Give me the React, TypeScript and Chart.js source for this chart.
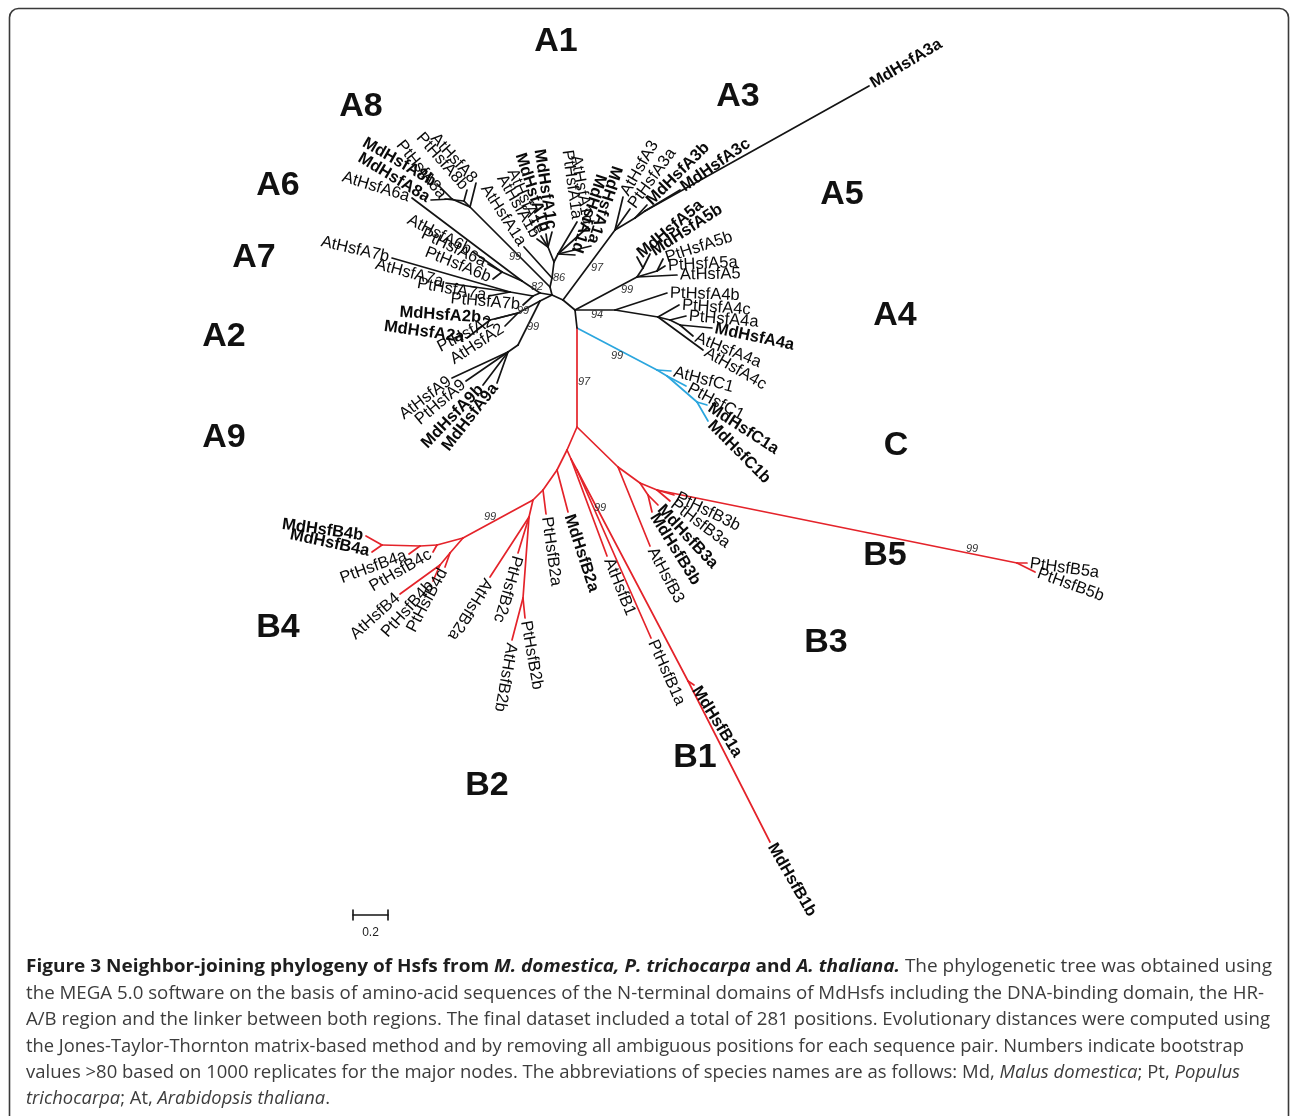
import { useEffect, useRef } from 'react';
import { Chart, registerables } from 'chart.js';

Chart.register(...registerables);

const W = 1290;
const H = 1116;

// ---- internal nodes of the tree (data space = figure units) ----
const nodeIds = ['N2','N1','N0','N3','NB','Cn','Cx','Cy','A3n','A3m','A3m2','A5n','A5m','A5p','A4n','A4b','A4c','A4d','Nx','A1n','A1b','A1c','A1d','A8n','A8m','A8p','N82','A6n','A6x','A7n','A7q','A29','A2n','A2m','A9n','A9a','NBl','B1n1','B1n2','B1n3','B2a','B2b','B2c','B2s','B2bb','B4n','B4L1','B4L2','B4L3','B4D1','B4D2','B35','B3x','B3xx','B3y','B5n'];
const nodeX = [575,563,552,577,577,657,667,697,615,635,645,637,643,657,615,658,670,680,550,552,554,548,558,470,452,464,540,522,502,533,510,540,518,490,518,508,567,571,577,688,557,543,533,529,523,463,437,420,382,450,440,618,640,648,657,1017];
const nodeY = [310,300,295,328,427,370,376,402,230,218,211,277,268,271,310,317,320,325,287,278,262,247,254,207,199,201,293,281,272,296,292,301,313,320,345,352,450,459,470,681,470,490,500,517,598,538,545,546,545,553,565,467,483,495,490,563];
const nodeParent = ['','N2','N1','N2','N3','N3','Cn','Cx','N1','A3n','A3m','N2','A5n','A5n','N2','A4n','A4b','A4c','N0','Nx','A1n','A1b','A1b','Nx','A8n','A8n','N0','N82','A6n','N82','A7n','N0','A29','A2n','A29','A9n','NB','NBl','B1n1','B1n2','NBl','B2a','B2b','B2c','B2s','B2c','B4n','B4L1','B4L2','B4n','B4D1','NB','B35','B3x','B3x','B3y'];

// ---- leaves: name, tip position, parent node, label reading angle (deg) ----
const leafNames = ['AtHsfA1a','AtHsfA1b','AtHsfA1e','MdHsfA1b','MdHsfA1c','PtHsfA1a','AtHsfA1d','MdHsfA1d','MdHsfA1a',
  'MdHsfA8b','MdHsfA8a','PtHsfA8a','PtHsfA8b','AtHsfA8',
  'AtHsfA6a','AtHsfA6b','PtHsfA6a','PtHsfA6b',
  'AtHsfA7b','AtHsfA7a','PtHsfA7a','PtHsfA7b',
  'MdHsfA2b','MdHsfA2a','PtHsfA2','AtHsfA2',
  'AtHsfA9','PtHsfA9','MdHsfA9b','MdHsfA9a',
  'AtHsfA3','PtHsfA3a','MdHsfA3b','MdHsfA3c','MdHsfA3a',
  'MdHsfA5a','MdHsfA5b','PtHsfA5b','PtHsfA5a','AtHsfA5',
  'PtHsfA4b','PtHsfA4c','PtHsfA4a','MdHsfA4a','AtHsfA4a','AtHsfA4c',
  'AtHsfC1','PtHsfC1','MdHsfC1a','MdHsfC1b',
  'MdHsfB4b','MdHsfB4a','PtHsfB4a','PtHsfB4c','AtHsfB4','PtHsfB4b','PtHsfB4d',
  'AtHsfB2a','PtHsfB2c','AtHsfB2b','PtHsfB2b','PtHsfB2a','MdHsfB2a',
  'AtHsfB1','PtHsfB1a','MdHsfB1a','MdHsfB1b',
  'AtHsfB3','MdHsfB3b','MdHsfB3a','PtHsfB3a','PtHsfB3b','PtHsfB5a','PtHsfB5b'];
const leafX = [524,537,541,546,552,577,588,575,591,
  437,431,445,467,476,
  412,473,488,493,
  392,446,489,523,
  484,467,495,505,
  452,466,483,497,
  623,630,647,680,869,
  637,650,663,665,677,
  667,679,686,712,693,703,
  671,686,707,708,
  366,372,409,433,400,433,445,
  490,518,512,525,546,568,
  607,651,694,770,
  650,652,658,670,674,1027,1035];
const leafY = [247,239,236,234,232,222,227,255,246,
  184,200,199,190,183,
  198,252,264,279,
  258,283,296,305,
  318,338,319,326,
  378,381,385,383,
  197,209,205,190,86,
  257,254,259,266,275,
  293,305,316,328,336,350,
  371,386,405,421,
  536,552,554,552,594,581,567,
  577,553,640,618,514,512,
  556,638,685,842,
  546,512,505,501,495,563,572];
const leafParent = ['A1n','A1c','A1c','A1c','A1c','A1d','A1d','A1d','A1d',
  'A8m','A8m','A8p','A8p','A8n',
  'A6n','A6x','A6x','A6x',
  'A7q','A7q','A7q','A7n',
  'A2m','A2m','A2n','A2n',
  'A9a','A9a','A9a','A9a',
  'A3n','A3n','A3m','A3m2','A3m2',
  'A5m','A5m','A5p','A5p','A5n',
  'A4n','A4b','A4c','A4d','A4d','A4b',
  'Cn','Cx','Cy','Cy',
  'B4L3','B4L3','B4L2','B4L1','B4D2','B4D2','B4D1',
  'B2s','B2s','B2bb','B2bb','B2b','B2a',
  'B1n1','B1n2','B1n3','B1n3',
  'B35','B3xx','B3xx','B3y','B3y','B5n','B5n'];
const leafRot = [57,60,66,72,81,82,80,108,108,
  30,31,51,49,48,
  17,27,25,22,
  13,15,10,5,
  4,8,-27,-33,
  -37,-40,-46,-52,
  -60,-54,-45,-35,-31,
  -40,-33,-18,-3,-1,
  2,4,5,12,22,30,
  15,28,33,45,
  8,12,-20,-30,-42,-48,-62,
  122,106,100,80,82,72,
  68,66,58,60,
  62,58,47,37,26,8,20];

// ---- bootstrap values ----
const bootValues = ['99','86','82','99','99','97','99','94','99','97','99','99','99'];
const bootX = [515,559,537,523,533,597,627,597,617,584,490,600,972];
const bootY = [257,278,287,311,327,268,290,315,356,382,517,508,549];

// ---- clade (group) labels ----
const cladeNames = ['A1','A3','A8','A6','A5','A7','A4','A2','A9','C','B5','B4','B3','B1','B2'];
const cladeX = [556,738,361,278,842,254,895,224,224,896,885,278,826,695,487];
const cladeY = [42,97,107,186,195,258,316,337,438,446,556,628,643,758,786];

// ---- scale bar ----
const scaleBarValue = 0.2;
const unitsPerDistance = 175;
const scaleBarX = 353;
const scaleBarY = 915;

// ---- caption ----
const captionLines: [string, string][][] = [
  [['Figure 3 Neighbor-joining phylogeny of Hsfs from ', 'b'], ['M. domestica, P. trichocarpa', 'bi'], [' and ', 'b'], ['A. thaliana.', 'bi'], [' The phylogenetic tree was obtained using', 'r']],
  [['the MEGA 5.0 software on the basis of amino-acid sequences of the N-terminal domains of MdHsfs including the DNA-binding domain, the HR-', 'r']],
  [['A/B region and the linker between both regions. The final dataset included a total of 281 positions. Evolutionary distances were computed using', 'r']],
  [['the Jones-Taylor-Thornton matrix-based method and by removing all ambiguous positions for each sequence pair. Numbers indicate bootstrap', 'r']],
  [['values >80 based on 1000 replicates for the major nodes. The abbreviations of species names are as follows: Md, ', 'r'], ['Malus domestica', 'i'], ['; Pt, ', 'r'], ['Populus', 'i']],
  [['trichocarpa', 'i'], ['; At, ', 'r'], ['Arabidopsis thaliana', 'i'], ['.', 'r']],
];
const captionLeft = 26;
const captionEnds = [1272, 1264, 1270, 1244, 1240, 330];
const captionY = [967, 994, 1020, 1047, 1073, 1099];

const BLACK = '#141414';
const BLUE = '#2ba6de';
const RED = '#e4232a';

type P = { x: number; y: number; parent: string };
const nodes: Record<string, P> = {};
nodeIds.forEach((id, i) => { nodes[id] = { x: nodeX[i], y: nodeY[i], parent: nodeParent[i] }; });

function colorOf(id: string): string {
  let cur = id;
  while (cur) {
    if (cur === 'Cn') return BLUE;
    if (cur === 'NB') return RED;
    cur = nodes[cur] ? nodes[cur].parent : '';
  }
  return BLACK;
}

function buildDatasets() {
  const ds: any[] = [];
  const seg = (a: { x: number; y: number }, b: { x: number; y: number }, color: string, w = 1.7) => {
    ds.push({
      data: [{ x: a.x, y: a.y }, { x: b.x, y: b.y }],
      borderColor: color,
      borderWidth: w,
      pointRadius: 0,
      fill: false,
      tension: 0,
      borderCapStyle: 'round',
    });
  };
  nodeIds.forEach((id) => {
    const n = nodes[id];
    if (n.parent) seg(nodes[n.parent], n, colorOf(id));
  });
  leafNames.forEach((name, i) => {
    const p = nodes[leafParent[i]];
    seg(p, { x: leafX[i], y: leafY[i] }, colorOf(leafParent[i]));
  });
  const len = scaleBarValue * unitsPerDistance;
  seg({ x: scaleBarX, y: scaleBarY }, { x: scaleBarX + len, y: scaleBarY }, BLACK, 1.6);
  seg({ x: scaleBarX, y: scaleBarY - 5 }, { x: scaleBarX, y: scaleBarY + 5 }, BLACK, 1.6);
  seg({ x: scaleBarX + len, y: scaleBarY - 5 }, { x: scaleBarX + len, y: scaleBarY + 5 }, BLACK, 1.6);
  return ds;
}

const figurePlugin = {
  id: 'figurePlugin',
  beforeDraw(chart: any) {
    const ctx = chart.ctx;
    ctx.save();
    ctx.fillStyle = '#ffffff';
    ctx.fillRect(0, 0, chart.width, chart.height);
    ctx.restore();
  },
  afterDatasetsDraw(chart: any) {
    const ctx = chart.ctx;
    const xs = chart.scales.x;
    const ys = chart.scales.y;
    const px = (v: number) => xs.getPixelForValue(v);
    const py = (v: number) => ys.getPixelForValue(v);

    // frame
    ctx.save();
    ctx.strokeStyle = '#3a3a3a';
    ctx.lineWidth = 1.6;
    ctx.beginPath();
    (ctx as any).roundRect(px(9.5), py(8.5), px(1288.5) - px(9.5), py(1140) - py(8.5), 9);
    ctx.stroke();
    ctx.restore();

    // leaf labels
    leafNames.forEach((name, i) => {
      const tx = px(leafX[i]);
      const ty = py(leafY[i]);
      const par = nodes[leafParent[i]];
      const dx = tx - px(par.x);
      const dy = ty - py(par.y);
      const r = (leafRot[i] * Math.PI) / 180;
      const ux = Math.cos(r);
      const uy = Math.sin(r);
      const outward = dx * ux + dy * uy >= 0;
      const gap = 3;
      const ax = outward ? tx + gap * ux : tx - gap * ux;
      const ay = outward ? ty + gap * uy : ty - gap * uy;
      const bold = name.startsWith('Md');
      ctx.save();
      ctx.translate(ax, ay);
      ctx.rotate(r);
      ctx.font = `${bold ? 'bold ' : ''}16.5px "Liberation Sans", Arial, sans-serif`;
      ctx.fillStyle = '#0a0a0a';
      ctx.textAlign = outward ? 'left' : 'right';
      ctx.textBaseline = 'middle';
      ctx.fillText(name, 0, 0);
      ctx.restore();
    });

    // bootstrap values
    ctx.save();
    ctx.font = 'italic 11px "Liberation Sans", Arial, sans-serif';
    ctx.fillStyle = '#333333';
    ctx.textAlign = 'center';
    ctx.textBaseline = 'middle';
    bootValues.forEach((v, i) => ctx.fillText(v, px(bootX[i]), py(bootY[i])));
    ctx.restore();

    // clade labels
    ctx.save();
    ctx.font = 'bold 34px "Liberation Sans", Arial, sans-serif';
    ctx.fillStyle = '#111111';
    ctx.textAlign = 'center';
    ctx.textBaseline = 'middle';
    cladeNames.forEach((c, i) => ctx.fillText(c, px(cladeX[i]), py(cladeY[i])));
    ctx.restore();

    // scale bar label
    ctx.save();
    ctx.font = '12px "Liberation Sans", Arial, sans-serif';
    ctx.fillStyle = '#222222';
    ctx.textAlign = 'center';
    ctx.textBaseline = 'middle';
    ctx.fillText(String(scaleBarValue), px(scaleBarX + (scaleBarValue * unitsPerDistance) / 2), py(scaleBarY + 18));
    ctx.restore();

    // caption
    const fontFor = (s: string) => `${s.includes('i') ? 'italic ' : ''}${s.includes('b') ? 'bold ' : ''}18px "Open Sans", "Noto Sans", sans-serif`;
    captionLines.forEach((segs, i) => {
      let natural = 0;
      segs.forEach(([t, s]) => { ctx.font = fontFor(s); natural += ctx.measureText(t).width; });
      const target = px(captionEnds[i]) - px(captionLeft);
      const k = target / natural;
      ctx.save();
      ctx.translate(px(captionLeft), py(captionY[i]));
      ctx.scale(k, 1);
      ctx.textBaseline = 'middle';
      ctx.textAlign = 'left';
      let cx = 0;
      segs.forEach(([t, s]) => {
        ctx.font = fontFor(s);
        ctx.fillStyle = s.includes('b') ? '#1e1e1e' : '#3c3c3c';
        ctx.fillText(t, cx, 0);
        cx += ctx.measureText(t).width;
      });
      ctx.restore();
    });
  },
};

export default function App() {
  const ref = useRef<HTMLCanvasElement>(null);
  useEffect(() => {
    document.body.style.margin = '0';
    document.body.style.overflow = 'hidden';
    const canvas = ref.current;
    if (!canvas) return;
    const chart = new Chart(canvas, {
      type: 'line',
      data: { datasets: buildDatasets() },
      options: {
        animation: false,
        responsive: false,
        events: [],
        layout: { padding: 0 },
        scales: {
          x: { type: 'linear', min: 0, max: W, display: false },
          y: { type: 'linear', min: 0, max: H, reverse: true, display: false },
        },
        plugins: { legend: { display: false }, tooltip: { enabled: false } },
        elements: { point: { radius: 0 } },
      },
      plugins: [figurePlugin],
    } as any);
    return () => chart.destroy();
  }, []);
  return (
    <div style={{ width: W, height: H, overflow: 'hidden', background: '#fff' }}>
      <canvas ref={ref} width={W} height={H} style={{ display: 'block', width: W, height: H }} />
    </div>
  );
}
